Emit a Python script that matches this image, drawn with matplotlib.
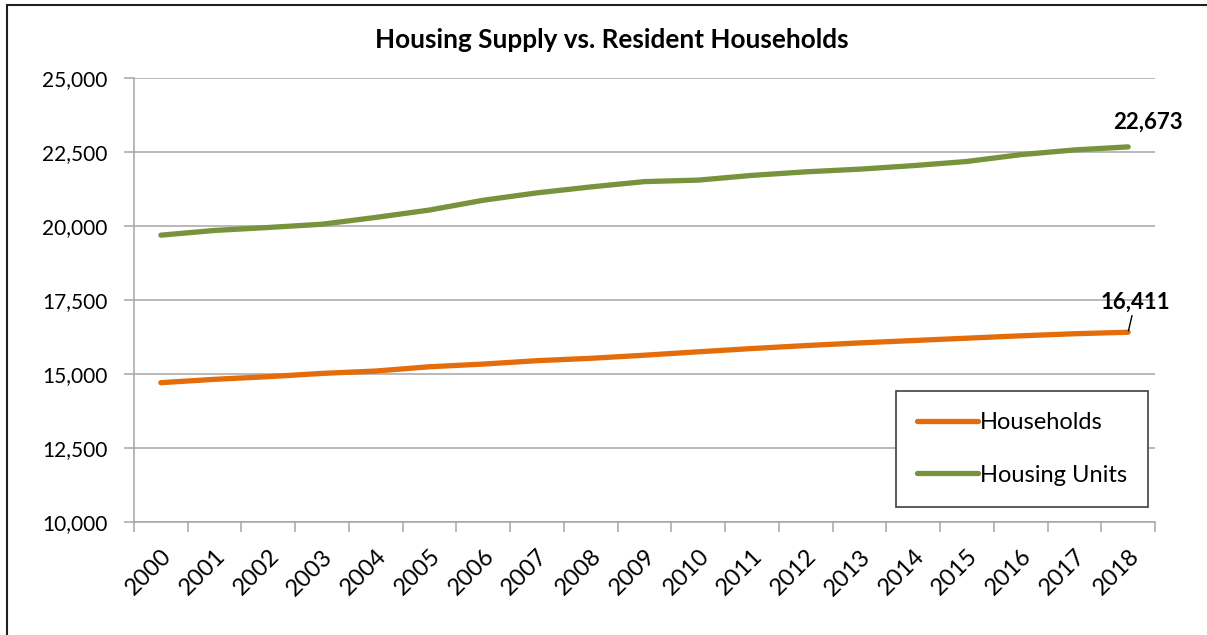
import matplotlib
matplotlib.use('Agg')
import matplotlib.pyplot as plt
from matplotlib.ticker import FuncFormatter, MultipleLocator
from matplotlib.patches import Rectangle

# datos
years = [str(y) for y in range(2000, 2019)]
households = [14707, 14820, 14910, 15020, 15100, 15245, 15335, 15450, 15530, 15635,
              15750, 15860, 15960, 16050, 16130, 16210, 16290, 16360, 16411]
housing_units = [19690, 19850, 19950, 20060, 20290, 20540, 20870, 21120, 21320, 21500,
                 21550, 21710, 21830, 21920, 22040, 22180, 22410, 22570, 22673]

orange = '#E46C0A'
green = '#77933C'
grid_c = '#A6A6A6'

plt.rcParams['font.family'] = ['Lato', 'DejaVu Sans']

fig = plt.figure(figsize=(12.07, 6.35), dpi=100)
ax = fig.add_axes([134 / 1207, 113 / 635, (1155 - 134) / 1207, (522 - 78) / 635])

x = list(range(len(years)))
ax.plot(x, households, color=orange, lw=3.8, solid_capstyle='round', label='Households')
ax.plot(x, housing_units, color=green, lw=3.8, solid_capstyle='round', label='Housing Units')

ax.set_xlim(-0.5, len(years) - 0.5)
ax.set_ylim(10000, 25000)
ax.yaxis.set_major_locator(MultipleLocator(2500))
ax.yaxis.set_major_formatter(FuncFormatter(lambda v, p: f'{v:,.0f}'))
ax.grid(axis='y', color=grid_c, lw=1.1)
ax.set_axisbelow(True)

# ticks de categorias entre puntos
ax.set_xticks([i - 0.5 for i in range(len(years) + 1)], minor=False)
ax.set_xticklabels([])
ax.set_xticks(x, minor=True)
ax.set_xticklabels(years, minor=True, rotation=45, ha='right', va='top',
                   rotation_mode='anchor', fontsize=17)
ax.tick_params(axis='x', which='major', length=7, color=grid_c, width=1.1)
ax.tick_params(axis='x', which='minor', length=0, pad=17)
ax.tick_params(axis='y', length=7, color=grid_c, width=1.1, labelsize=15, pad=12)

for s in ['top', 'right']:
    ax.spines[s].set_visible(False)
for s in ['left', 'bottom']:
    ax.spines[s].set_color(grid_c)
    ax.spines[s].set_linewidth(1.1)

# etiquetas de datos
ax.annotate(f'{housing_units[-1]:,}', xy=(x[-1], housing_units[-1]), xytext=(14, 10),
            textcoords='offset points', ha='center', va='bottom', fontsize=16,
            fontweight='bold')
ax.annotate(f'{households[-1]:,}', xy=(x[-1], households[-1]), xytext=(5, 14),
            textcoords='offset points', ha='center', va='bottom', fontsize=16,
            fontweight='bold',
            arrowprops=dict(arrowstyle='-', color='black', lw=1, shrinkA=0, shrinkB=1))

fig.text(612 / 1207, 1 - 40 / 635, 'Housing Supply vs. Resident Households',
         ha='center', va='center', fontsize=18.8, fontweight='bold')

leg = ax.legend(loc='lower right', bbox_to_anchor=(1 - 7 / 1021, 15 / 444), fontsize=17,
                frameon=True, fancybox=False, edgecolor='#404040', framealpha=1,
                handlelength=2.6, handletextpad=0.05, borderpad=0.9, labelspacing=1.35,
                borderaxespad=0)
leg.get_frame().set_linewidth(1.2)

# borde exterior
fig.patches.append(Rectangle((7 / 1207, -0.1), 1.2, 1 - 5 / 635 + 0.1,
                             transform=fig.transFigure, fill=False,
                             edgecolor='#202020', lw=1.5))

plt.savefig('out.png', dpi=100)
plt.close()
